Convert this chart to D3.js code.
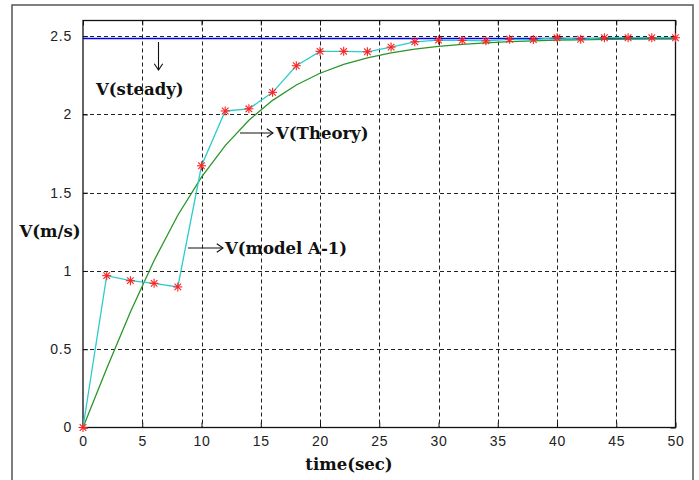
<!DOCTYPE html>
<html>
<head>
<meta charset="utf-8">
<script src="https://cdn.jsdelivr.net/npm/d3@7/dist/d3.min.js"></script>
<style>
  html, body { margin: 0; padding: 0; background: #fff; }
  svg { display: block; }
</style>
</head>
<body>
<svg id="chart" width="699" height="480"></svg>
<script>
// ---- data ----
const timeModel = [0, 2, 4, 6, 8, 10, 12, 14, 16, 18, 20, 22, 24, 26, 28, 30, 32, 34, 36, 38, 40, 42, 44, 46, 48, 50];
const vModel    = [0, 0.97, 0.938, 0.921, 0.898, 1.672, 2.022, 2.036, 2.141, 2.311, 2.403, 2.403, 2.40, 2.43, 2.464, 2.475, 2.473, 2.47, 2.48, 2.478, 2.49, 2.48, 2.49, 2.49, 2.49, 2.49];
const timeTheory = [0, 2, 4, 6, 8, 10, 12, 14, 16, 18, 20, 22, 24, 26, 28, 30, 32, 34, 36, 38, 40, 42, 44, 46, 48, 50];
const vTheory    = [0, 0.377, 0.738, 1.067, 1.356, 1.600, 1.801, 1.963, 2.090, 2.188, 2.263, 2.319, 2.361, 2.393, 2.417, 2.435, 2.448, 2.457, 2.465, 2.470, 2.474, 2.477, 2.479, 2.481, 2.482, 2.483];
const vSteady = 2.485;
const xTicks = [0, 5, 10, 15, 20, 25, 30, 35, 40, 45, 50];
const yTicks = [0, 0.5, 1, 1.5, 2, 2.5];
const xDomain = [0, 50];
const yDomain = [0, 2.6];
const labels = {
  x: "time(sec)", y: "V(m/s)",
  steady: "V(steady)", theory: "V(Theory)", model: "V(model A-1)"
};

// ---- layout ----
const svg = d3.select("#chart");
const L = 83, R = 675.5, T = 20.5, B = 427.5;
const x = d3.scaleLinear().domain(xDomain).range([L, R]);
const y = d3.scaleLinear().domain(yDomain).range([B, T]);

// outer frame
svg.append("rect").attr("x", 12).attr("y", 5).attr("width", 681).attr("height", 490)
  .attr("fill", "none").attr("stroke", "#555").attr("stroke-width", 1.5);

// grid
const grid = svg.append("g").attr("stroke", "#222").attr("stroke-width", 1).attr("stroke-dasharray", "4,3");
xTicks.forEach(t => { if (t > xDomain[0] && t < xDomain[1])
  grid.append("line").attr("x1", Math.round(x(t)) + 0.5).attr("x2", Math.round(x(t)) + 0.5).attr("y1", T).attr("y2", B); });
yTicks.forEach(t => { if (t > yDomain[0])
  grid.append("line").attr("y1", Math.round(y(t)) + 0.5).attr("y2", Math.round(y(t)) + 0.5).attr("x1", L).attr("x2", R); });

// axes (inward ticks)
const fontTick = "'Liberation Sans', Arial, sans-serif";
const xAxisB = d3.axisBottom(x).tickValues(xTicks).tickSize(-5).tickPadding(9).tickFormat(d3.format("d"));
const xAxisT = d3.axisTop(x).tickValues(xTicks).tickSize(-5).tickFormat("");
const yAxisL = d3.axisLeft(y).tickValues(yTicks).tickSize(-5).tickPadding(11).tickFormat(d => String(d));
const yAxisR = d3.axisRight(y).tickValues(yTicks).tickSize(-5).tickFormat("");

function styleAxis(g) {
  g.select(".domain").remove();
  g.selectAll("line").attr("stroke", "#111");
  g.selectAll("text").attr("font-family", fontTick).attr("font-size", 14)
    .attr("fill", "#222").attr("letter-spacing", "0.8px");
}
svg.append("g").attr("transform", `translate(0,${B})`).call(xAxisB).call(styleAxis);
svg.append("g").attr("transform", `translate(0,${T})`).call(xAxisT).call(styleAxis);
svg.append("g").attr("transform", `translate(${L},0)`).call(yAxisL).call(styleAxis);
svg.append("g").attr("transform", `translate(${R},0)`).call(yAxisR).call(styleAxis);

// plot box
svg.append("rect").attr("x", L).attr("y", T).attr("width", R - L).attr("height", B - T)
  .attr("fill", "none").attr("stroke", "#111").attr("stroke-width", 1.3);

// steady line
svg.append("line").attr("x1", x(xDomain[0])).attr("x2", x(xDomain[1]))
  .attr("y1", y(vSteady)).attr("y2", y(vSteady))
  .attr("stroke", "#0000ff").attr("stroke-width", 1.3);

// theory line
const line = d3.line().x(d => x(d[0])).y(d => y(d[1]));
svg.append("path").datum(timeTheory.map((t, i) => [t, vTheory[i]]))
  .attr("d", line).attr("fill", "none").attr("stroke", "#2a962a").attr("stroke-width", 1.3);

// model line
const modelData = timeModel.map((t, i) => [t, vModel[i]]);
svg.append("path").datum(modelData)
  .attr("d", line).attr("fill", "none").attr("stroke", "#2ccccc").attr("stroke-width", 1.3);

// asterisk markers
const r = 4.5, rd = 3.3;
const mk = svg.append("g").attr("stroke", "#ff2020").attr("stroke-width", 1.1);
modelData.forEach(d => {
  const cx = x(d[0]), cy = y(d[1]);
  mk.append("line").attr("x1", cx - r).attr("x2", cx + r).attr("y1", cy).attr("y2", cy);
  mk.append("line").attr("x1", cx).attr("x2", cx).attr("y1", cy - r).attr("y2", cy + r);
  mk.append("line").attr("x1", cx - rd).attr("x2", cx + rd).attr("y1", cy - rd).attr("y2", cy + rd);
  mk.append("line").attr("x1", cx - rd).attr("x2", cx + rd).attr("y1", cy + rd).attr("y2", cy - rd);
});

// annotations
const fontLab = "'DejaVu Serif', 'Liberation Serif', serif";
function label(txt, px, py, anchor) {
  svg.append("text").attr("x", px).attr("y", py).attr("text-anchor", anchor || "start")
    .attr("font-family", fontLab).attr("font-weight", "bold").attr("font-size", 16.5)
    .attr("fill", "#111").text(txt);
}
function arrow(x1, y1, x2, y2) {
  svg.append("line").attr("x1", x1).attr("y1", y1).attr("x2", x2).attr("y2", y2)
    .attr("stroke", "#111").attr("stroke-width", 1.1);
  const ang = Math.atan2(y2 - y1, x2 - x1), h = 7.5, w = 0.6;
  svg.append("path")
    .attr("d", `M${x2 - h * Math.cos(ang - w)},${y2 - h * Math.sin(ang - w)} L${x2},${y2} L${x2 - h * Math.cos(ang + w)},${y2 - h * Math.sin(ang + w)}`)
    .attr("fill", "none").attr("stroke", "#111").attr("stroke-width", 1.1);
}
label(labels.steady, 96, 95);
arrow(158.5, 42, 158.5, 70);
label(labels.theory, 276, 139);
arrow(240, 133, 273, 133);
label(labels.model, 225, 254);
arrow(188, 248, 223, 248);
label(labels.y, 50, 237, "middle");
label(labels.x, 349, 470, "middle");
</script>
</body>
</html>
